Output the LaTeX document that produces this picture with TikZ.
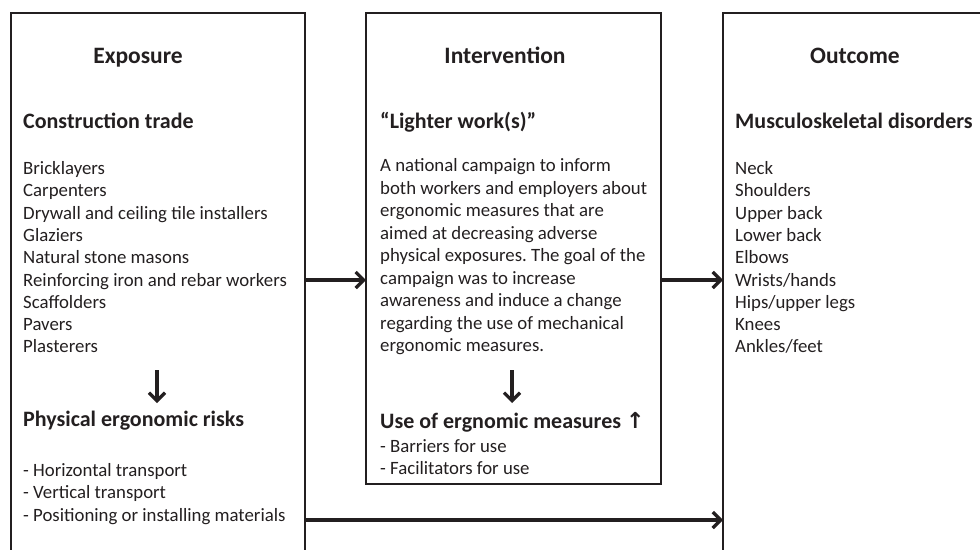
\documentclass[tikz,border=0pt]{standalone}
\usepackage{fontspec}
\setmainfont{Carlito}
\newfontfamily\symfont{DejaVu Sans}
\usetikzlibrary{arrows.meta}
\definecolor{ink}{RGB}{35,31,32}
\frenchspacing

\begin{document}
\begin{tikzpicture}
  [
    x = 1pt, y = -1pt,
    >={Straight Barb[length=8pt,width=16pt]},
    frame/.style = {draw = ink, line width = 2.8pt},
    flow/.style  = {draw = ink, line width = 3.2pt, ->},
    title/.style = {font = \fontsize{23.5}{28}\selectfont\bfseries, text = ink, inner sep = 0pt, anchor = base},
    head/.style  = {font = \fontsize{22}{26}\selectfont\bfseries, text = ink, inner sep = 0pt, anchor = base west},
    item/.style  = {font = \fontsize{18.8}{22}\selectfont, text = ink, inner sep = 0pt, anchor = base west},
  ]

 \clip (0,0) rectangle (980,549);

 % the three boxes (left and right run off the page)
 \draw[frame] (11,560) -- (11,13) -- (305,13) -- (305,560);
 \draw[frame] (366,13) rectangle (661,484);
 \draw[frame] (723,560) -- (723,13) -- (990,13);

 \coordinate (expTop) at (305,280);
 \coordinate (expBot) at (305,520);
 \coordinate (intIn)  at (366,280);
 \coordinate (intOut) at (661,280);
 \coordinate (outTop) at (723,280);
 \coordinate (outBot) at (723,520);

 \node[title] (exposure)     at (138,63) {Exposure};
 \node[title] (intervention) at (505,63) {Intervention};
 \node[title] (outcome)      at (855,63) {Outcome};

 % exposure
 \node[head] (trade) at (23,128) {Construction trade};
 \foreach \t [count=\i from 0] in {Bricklayers, Carpenters, Drywall and ceiling tile installers, Glaziers, Natural stone masons, Reinforcing iron and rebar workers, Scaffolders, Pavers, Plasterers}
   \node[item] (trade\i) at (23,174.5+22.3*\i) {\t};
 \coordinate (tradeA) at (157,370);
 \coordinate (tradeB) at (157,403);
 \node[head] (risks) at (23,426) {Physical ergonomic risks};
 \foreach \t [count=\i from 0] in {- Horizontal transport, - Vertical transport, - Positioning or installing materials}
   \node[item] (risk\i) at (23,476+22.5*\i) {\t};

 % intervention
 \node[head] (lighter) at (380,128) {“Lighter work(s)”};
 \foreach \t [count=\i from 0] in {A national campaign to inform, both workers and employers about, ergonomic measures that are, aimed at decreasing adverse, physical exposures. The goal of the, campaign was to increase, awareness and induce a change, regarding the use of mechanical, ergonomic measures.}
   \node[item] (camp\i) at (380,171.5+22.5*\i) {\t};
 \coordinate (campA) at (512,370);
 \coordinate (campB) at (512,403);
 \node[head] (use) at (380,428) {Use of ergnomic measures {\symfont ↑}};
 \node[item] (use0) at (380,452) {- Barriers for use};
 \node[item] (use1) at (380,474) {- Facilitators for use};

 % outcome
 \node[head] (msd) at (735,128) {Musculoskeletal disorders};
 \foreach \t [count=\i from 0] in {Neck, Shoulders, Upper back, Lower back, Elbows, Wrists/hands, Hips/upper legs, Knees, Ankles/feet}
   \node[item] (site\i) at (735,174.5+22.3*\i) {\t};

 \draw[flow] (tradeA) -- (tradeB);
 \draw[flow] (campA) -- (campB);
 \draw[flow] (expTop) -- (intIn);
 \draw[flow] (intOut) -- (outTop);
 \draw[flow] (expBot) -- (outBot);

\end{tikzpicture}
\end{document}
